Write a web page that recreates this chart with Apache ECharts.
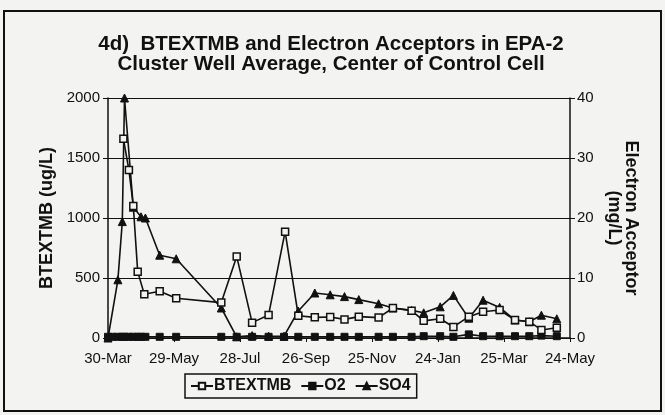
<!DOCTYPE html>
<html>
<head>
<meta charset="utf-8">
<script src="https://cdn.jsdelivr.net/npm/echarts@6/dist/echarts.min.js"></script>
<style>
html,body{margin:0;padding:0;background:#f3f3f1;}
#chart{width:665px;height:415px;}
</style>
</head>
<body>
<div id="chart"></div>
<script>
// Tick labels (every 60 days from 30-Mar)
const xTickLabels = ['30-Mar','29-May','28-Jul','26-Sep','25-Nov','24-Jan','25-Mar','24-May'];

// BTEXTMB (ug/L)
const btexDays = [14,19,23,27,33,47,62,103,117,131,146,161,173,188,202,215,228,246,259,276,287,302,314,328,341,356,370,383,394,408];
const btexValues = [1660,1400,1100,553,365,390,331,295,680,128,192,886,185,172,175,155,178,170,250,228,143,160,92,178,219,233,150,136,67,85];

// O2 (mg/L)
const o2Days = [0,4,9,13,15,19,23,27,30,34,47,62,103,117,131,146,160,173,188,202,215,228,246,259,276,287,302,314,328,341,356,370,383,394,408];
const o2Values = [0.2,0.2,0.2,0.2,0.2,0.2,0.2,0.2,0.2,0.2,0.2,0.2,0.2,0.2,0.2,0.2,0.2,0.2,0.2,0.2,0.2,0.2,0.2,0.2,0.2,0.3,0.3,0.2,0.6,0.3,0.3,0.3,0.3,0.4,0.3];

// SO4 (mg/L)
const so4Days = [0,9,13,15,23,30,34,47,62,103,117,131,146,160,173,188,202,215,228,246,259,276,287,302,314,328,341,356,370,383,394,408];
const so4Values = [0,9.7,19.4,40,21.8,20.2,20,13.8,13.2,5.0,0.2,0.4,0.3,0.3,4.5,7.5,7.2,6.9,6.4,5.7,5.0,4.6,4.2,5.2,7.1,3.3,6.3,5.1,3.0,2.7,3.8,3.2];

const zip = (a, b) => a.map((d, i) => [d, b[i]]);
const FONT = '"Liberation Sans", Arial, sans-serif';

const chart = echarts.init(document.getElementById('chart'), null, {renderer: 'canvas'});
chart.setOption({
  backgroundColor: '#f3f3f1',
  animation: false,
  title: {
    text: '4d)  BTEXTMB and Electron Acceptors in EPA-2\nCluster Well Average, Center of Control Cell',
    left: 326,
    top: 29,
    textAlign: 'center',
    textStyle: {fontFamily: FONT, fontWeight: 'bold', fontSize: 20.5, lineHeight: 20, color: '#111'}
  },
  graphic: [{
    type: 'rect',
    shape: {x: 4, y: 11, width: 657, height: 400},
    style: {fill: 'none', stroke: '#111', lineWidth: 2},
    silent: true
  }],
  legend: {
    left: 185,
    top: 374,
    itemWidth: 22,
    itemHeight: 8,
    itemGap: 9,
    padding: [4, 6, 4, 5],
    borderColor: '#111',
    borderWidth: 1.5,
    textStyle: {fontFamily: FONT, fontWeight: 'bold', fontSize: 16, color: '#111', padding: [0, 0, 0, -4]},
    data: ['BTEXTMB', 'O2', 'SO4']
  },
  grid: {left: 108, right: 95, top: 98, bottom: 77},
  xAxis: {
    type: 'value',
    min: 0,
    max: 420,
    interval: 60,
    axisLine: {lineStyle: {color: '#111', width: 1.5}},
    axisTick: {show: true, length: 4, lineStyle: {color: '#111'}},
    splitLine: {show: false},
    axisLabel: {
      fontFamily: FONT, fontSize: 15, color: '#111', margin: 13,
      formatter: v => xTickLabels[Math.round(v / 60)] || ''
    }
  },
  yAxis: [{
    type: 'value',
    min: 0,
    max: 2000,
    interval: 500,
    position: 'left',
    name: 'BTEXTMB (ug/L)',
    nameLocation: 'middle',
    nameRotate: 90,
    nameGap: 52,
    nameTextStyle: {fontFamily: FONT, fontWeight: 'bold', fontSize: 18, color: '#111'},
    axisLine: {show: true, lineStyle: {color: '#111', width: 1.5}},
    axisTick: {show: true, length: 5, lineStyle: {color: '#111'}},
    splitLine: {show: true, lineStyle: {color: '#111', width: 1}},
    axisLabel: {fontFamily: FONT, fontSize: 15, color: '#111', margin: 8, formatter: v => String(v)}
  }, {
    type: 'value',
    min: 0,
    max: 40,
    interval: 10,
    position: 'right',
    name: 'Electron Acceptor\n(mg/L)',
    nameLocation: 'middle',
    nameRotate: -90,
    nameGap: 35,
    nameTextStyle: {fontFamily: FONT, fontWeight: 'bold', fontSize: 18, color: '#111', lineHeight: 17},
    axisLine: {show: true, lineStyle: {color: '#111', width: 1.5}},
    axisTick: {show: true, length: 5, lineStyle: {color: '#111'}},
    splitLine: {show: false},
    axisLabel: {fontFamily: FONT, fontSize: 15, color: '#111', margin: 7}
  }],
  series: [{
    name: 'BTEXTMB',
    type: 'line',
    yAxisIndex: 0,
    data: zip(btexDays, btexValues),
    symbol: 'rect',
    symbolSize: 7,
    showAllSymbol: true,
    lineStyle: {color: '#111', width: 1.6},
    itemStyle: {color: '#f3f3f1', borderColor: '#111', borderWidth: 1.5},
    z: 3
  }, {
    name: 'O2',
    type: 'line',
    yAxisIndex: 1,
    data: zip(o2Days, o2Values),
    symbol: 'rect',
    symbolSize: 7,
    showAllSymbol: true,
    lineStyle: {color: '#111', width: 1.6},
    itemStyle: {color: '#111', borderColor: '#111', borderWidth: 1},
    z: 2
  }, {
    name: 'SO4',
    type: 'line',
    yAxisIndex: 1,
    data: zip(so4Days, so4Values),
    symbol: 'triangle',
    symbolSize: 8,
    showAllSymbol: true,
    lineStyle: {color: '#111', width: 1.6},
    itemStyle: {color: '#111', borderColor: '#111', borderWidth: 1},
    z: 2
  }]
});
</script>
</body>
</html>
